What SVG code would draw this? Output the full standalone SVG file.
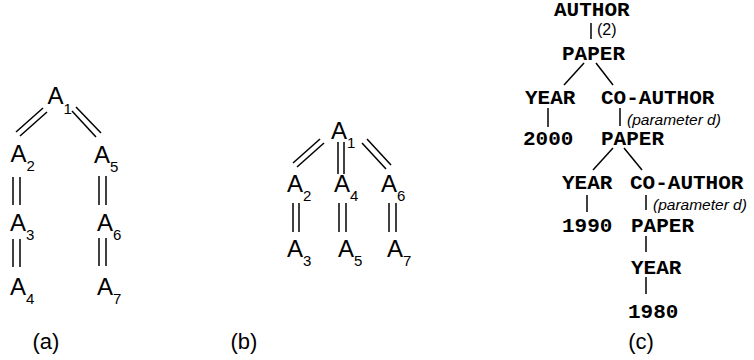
<svg xmlns="http://www.w3.org/2000/svg" width="754" height="360" viewBox="0 0 754 360">
<style>
.a{font-family:"Liberation Sans",Arial,sans-serif;font-size:24px;fill:#000}
.s{font-size:15px}
.m{font-family:"Liberation Mono","Courier New",monospace;font-size:21px;font-weight:bold;fill:#000}
.i{font-family:"Liberation Sans",Arial,sans-serif;font-size:15.5px;font-style:italic;fill:#000}
.p{font-family:"Liberation Sans",Arial,sans-serif;font-size:16px;fill:#000}
.cap{font-family:"Liberation Sans",Arial,sans-serif;font-size:22px;fill:#000;text-anchor:middle}
.ln line{stroke:#000;stroke-width:1.5;fill:none}
</style>
<rect width="754" height="360" fill="#fff"/>
<g id="connectors" class="ln">
<line x1="43" y1="108" x2="16" y2="132"/>
<line x1="47" y1="112" x2="20" y2="136"/>
<line x1="72" y1="111" x2="96" y2="137"/>
<line x1="76" y1="107" x2="101" y2="133"/>
<line x1="13" y1="177" x2="13" y2="205"/>
<line x1="20" y1="177" x2="20" y2="205"/>
<line x1="13" y1="239" x2="13" y2="267"/>
<line x1="20" y1="239" x2="20" y2="267"/>
<line x1="99" y1="176" x2="99" y2="205"/>
<line x1="106" y1="176" x2="106" y2="205"/>
<line x1="99" y1="238" x2="99" y2="266"/>
<line x1="106" y1="238" x2="106" y2="266"/>
<line x1="320" y1="139" x2="293" y2="163"/>
<line x1="324" y1="143" x2="297" y2="167"/>
<line x1="338" y1="142" x2="338" y2="174"/>
<line x1="344" y1="142" x2="344" y2="174"/>
<line x1="367" y1="139" x2="391" y2="165"/>
<line x1="362" y1="143" x2="386" y2="169"/>
<line x1="293" y1="203" x2="293" y2="232"/>
<line x1="299" y1="203" x2="299" y2="232"/>
<line x1="339" y1="203" x2="339" y2="232"/>
<line x1="346" y1="203" x2="346" y2="232"/>
<line x1="389" y1="203" x2="389" y2="232"/>
<line x1="396" y1="203" x2="396" y2="232"/>
<line x1="591" y1="23" x2="591" y2="39"/>
<line x1="584" y1="63" x2="564" y2="85"/>
<line x1="596" y1="63" x2="613" y2="85"/>
<line x1="548" y1="108" x2="548" y2="127"/>
<line x1="620" y1="108" x2="620" y2="126"/>
<line x1="613" y1="148" x2="593" y2="170"/>
<line x1="624" y1="148" x2="642" y2="170"/>
<line x1="587" y1="195" x2="587" y2="212"/>
<line x1="646" y1="195" x2="646" y2="210"/>
<line x1="646" y1="236" x2="646" y2="252"/>
<line x1="646" y1="277" x2="646" y2="294"/>
</g>
<g id="a-A1"><text class="a" x="47.5" y="104">A<tspan class="s" dy="10">1</tspan></text></g>
<g id="a-A2"><text class="a" x="10.5" y="162">A<tspan class="s" dy="9">2</tspan></text></g>
<g id="a-A3"><text class="a" x="10" y="231">A<tspan class="s" dy="9">3</tspan></text></g>
<g id="a-A4"><text class="a" x="10" y="295">A<tspan class="s" dy="9">4</tspan></text></g>
<g id="a-A5"><text class="a" x="94" y="163">A<tspan class="s" dy="9">5</tspan></text></g>
<g id="a-A6"><text class="a" x="97" y="231">A<tspan class="s" dy="9">6</tspan></text></g>
<g id="a-A7"><text class="a" x="97" y="295">A<tspan class="s" dy="9">7</tspan></text></g>
<g id="b-A1"><text class="a" x="331" y="139">A<tspan class="s" dy="9">1</tspan></text></g>
<g id="b-A2"><text class="a" x="287" y="192">A<tspan class="s" dy="9">2</tspan></text></g>
<g id="b-A4"><text class="a" x="334" y="192">A<tspan class="s" dy="9">4</tspan></text></g>
<g id="b-A6"><text class="a" x="381" y="192">A<tspan class="s" dy="9">6</tspan></text></g>
<g id="b-A3"><text class="a" x="287" y="257">A<tspan class="s" dy="9">3</tspan></text></g>
<g id="b-A5"><text class="a" x="338" y="257">A<tspan class="s" dy="9">5</tspan></text></g>
<g id="b-A7"><text class="a" x="387" y="257">A<tspan class="s" dy="9">7</tspan></text></g>
<g id="c-author"><text class="m" x="554" y="15.5">AUTHOR</text></g>
<g id="c-label2"><text class="p" x="597" y="35">(2)</text></g>
<g id="c-paper1"><text class="m" x="562" y="60">PAPER</text></g>
<g id="c-year1"><text class="m" x="525" y="104">YEAR</text></g>
<g id="c-coauthor1"><text class="m" x="601" y="104">CO-AUTHOR</text></g>
<g id="c-param1"><text class="i" x="627" y="124.5">(parameter d)</text></g>
<g id="c-2000"><text class="m" x="523" y="144.5">2000</text></g>
<g id="c-paper2"><text class="m" x="601" y="144.5">PAPER</text></g>
<g id="c-year2"><text class="m" x="562" y="189">YEAR</text></g>
<g id="c-coauthor2"><text class="m" x="630" y="189">CO-AUTHOR</text></g>
<g id="c-param2"><text class="i" x="653" y="209.5">(parameter d)</text></g>
<g id="c-1990"><text class="m" x="562" y="231.5">1990</text></g>
<g id="c-paper3"><text class="m" x="631" y="231.5">PAPER</text></g>
<g id="c-year3"><text class="m" x="631" y="273.5">YEAR</text></g>
<g id="c-1980"><text class="m" x="628" y="317.5">1980</text></g>
<g id="captions">
<text class="cap" x="46" y="349">(a)</text>
<text class="cap" x="244" y="349">(b)</text>
<text class="cap" x="641" y="349">(c)</text>
</g>
</svg>
